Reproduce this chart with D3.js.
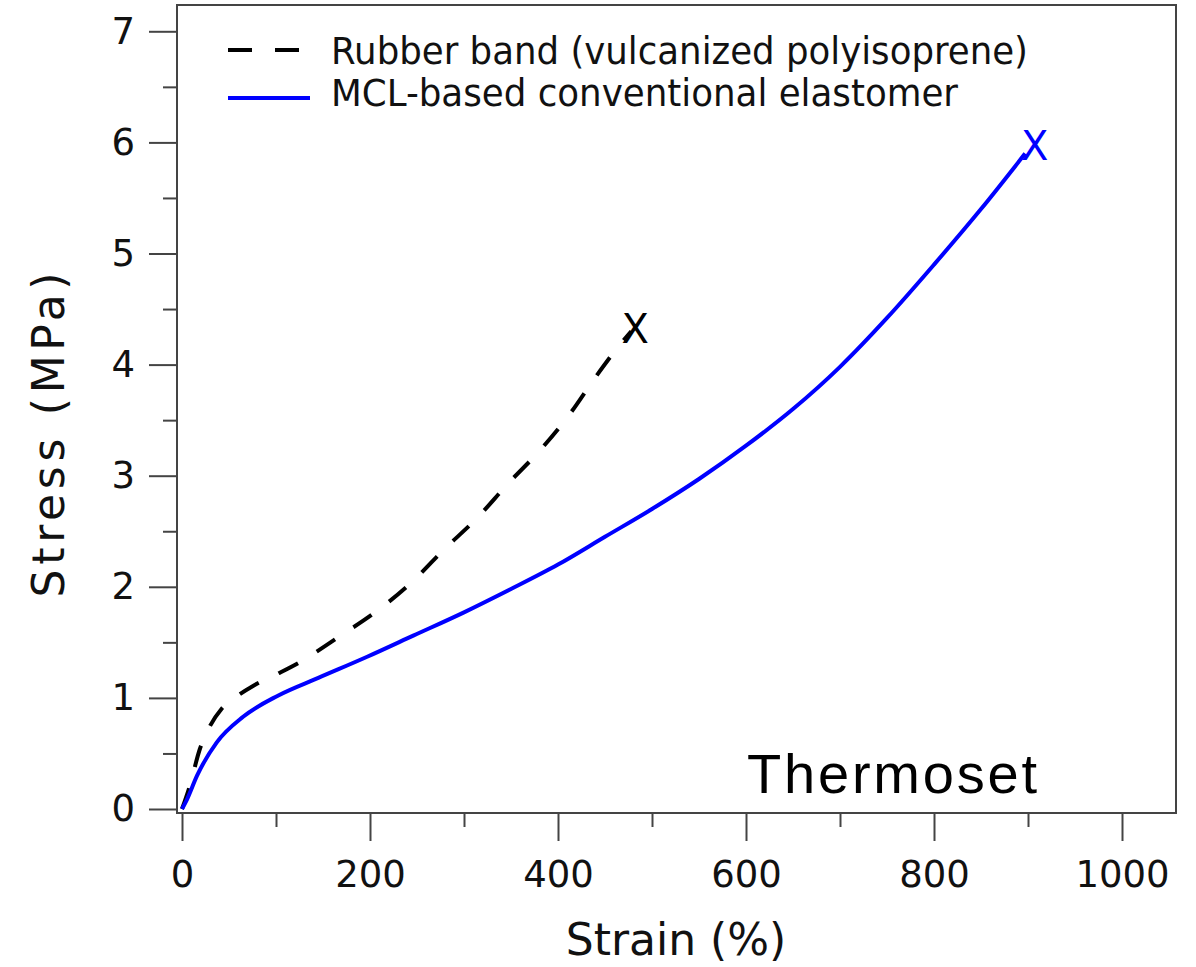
<!DOCTYPE html>
<html>
<head>
<meta charset="utf-8">
<script src="https://cdn.jsdelivr.net/npm/d3@7"></script>
<style>
    body { margin: 0; background: #fff; }
    svg { display: block; }
    .axis text { font-family: "DejaVu Sans", sans-serif; font-size: 37px; fill: #111; }
    .axis line { stroke: #444; stroke-width: 2; }
</style>
</head>
<body>
<div id="graph-placeholder"></div>
<script>
// strain (%) / stress (MPa)
var rubberStrain = [0, 8, 19, 30, 42, 56, 76, 100, 125, 165, 207, 243, 278, 314, 347, 381, 413, 441, 466, 478];
var rubberStress = [0, 0.2, 0.54, 0.75, 0.9, 1.0, 1.11, 1.21, 1.32, 1.54, 1.78, 2.03, 2.33, 2.62, 2.93, 3.23, 3.56, 3.9, 4.18, 4.3];

var mclStrain = [0, 5, 16, 37, 65, 102, 145, 197, 246, 300, 350, 400, 450, 500, 550, 600, 650, 700, 750, 800, 850, 897];
var mclStress = [0, 0.08, 0.3, 0.6, 0.83, 1.02, 1.18, 1.37, 1.56, 1.77, 1.98, 2.2, 2.45, 2.7, 2.97, 3.27, 3.6, 3.98, 4.42, 4.9, 5.4, 5.9];

// failure points marked with an X
var breakStrain = [482, 907];
var breakStress = [4.33, 5.98];

var seriesNames = ["Rubber band (vulcanized polyisoprene)", "MCL-based conventional elastomer"];
var xMajorTicks = [0, 200, 400, 600, 800, 1000],
    xMinorTicks = [100, 300, 500, 700, 900],
    yMajorTicks = [0, 1, 2, 3, 4, 5, 6, 7],
    yMinorTicks = [0.5, 1.5, 2.5, 3.5, 4.5, 5.5, 6.5];

var width = 1196,
    height = 967,
    frame = {left: 177, top: 5, right: 1176, bottom: 813};

var svg = d3.select("#graph-placeholder")
    .append("svg")
    .attr("width", width)
    .attr("height", height);

var xScale = d3.scaleLinear().domain([0, 1000]).range([182, 1122]);
var yScale = d3.scaleLinear().domain([0, 7]).range([809, 31.3]);

var toPoints = function (xs, ys) {
    return xs.map(function (x, i) { return [x, ys[i]]; });
};

var noDomain = function (g) { g.select(".domain").remove(); };

// bottom axis
svg.append("g")
    .attr("class", "axis")
    .attr("transform", "translate(0," + frame.bottom + ")")
    .call(d3.axisBottom(xScale).tickValues(xMajorTicks).tickSize(28).tickPadding(20).tickFormat(d3.format("d")))
    .call(noDomain);

svg.append("g")
    .attr("class", "axis")
    .attr("transform", "translate(0," + frame.bottom + ")")
    .call(d3.axisBottom(xScale).tickValues(xMinorTicks).tickSize(14).tickFormat(""))
    .call(noDomain);

// left axis
svg.append("g")
    .attr("class", "axis")
    .attr("transform", "translate(" + frame.left + ",0)")
    .call(d3.axisLeft(yScale).tickValues(yMajorTicks).tickSize(28).tickPadding(14).tickFormat(d3.format("d")))
    .call(noDomain);

svg.append("g")
    .attr("class", "axis")
    .attr("transform", "translate(" + frame.left + ",0)")
    .call(d3.axisLeft(yScale).tickValues(yMinorTicks).tickSize(14).tickFormat(""))
    .call(noDomain);

// plot frame
svg.append("rect")
    .attr("x", frame.left)
    .attr("y", frame.top)
    .attr("width", frame.right - frame.left)
    .attr("height", frame.bottom - frame.top)
    .style("fill", "none")
    .style("stroke", "#444")
    .style("stroke-width", 2);

var line = d3.line()
    .curve(d3.curveMonotoneX)
    .x(function (d) { return xScale(d[0]); })
    .y(function (d) { return yScale(d[1]); });

svg.append("path")
    .datum(toPoints(rubberStrain, rubberStress))
    .attr("d", line)
    .style("fill", "none")
    .style("stroke", "#000")
    .style("stroke-width", 4)
    .style("stroke-dasharray", "22,22");

svg.append("path")
    .datum(toPoints(mclStrain, mclStress))
    .attr("d", line)
    .style("fill", "none")
    .style("stroke", "#0000ff")
    .style("stroke-width", 4);

var breakColors = ["#000", "#0000ff"];
svg.selectAll(".break")
    .data(toPoints(breakStrain, breakStress))
    .enter()
    .append("text")
    .attr("class", "break")
    .attr("x", function (d) { return xScale(d[0]); })
    .attr("y", function (d) { return yScale(d[1]) + 15; })
    .attr("text-anchor", "middle")
    .style("font-family", "DejaVu Sans, sans-serif")
    .style("font-size", "40px")
    .style("fill", function (d, i) { return breakColors[i]; })
    .text("X");

// legend
var legend = svg.append("g").attr("class", "legend");
legend.append("line")
    .attr("x1", 228).attr("x2", 310)
    .attr("y1", 50).attr("y2", 50)
    .style("stroke", "#000")
    .style("stroke-width", 4)
    .style("stroke-dasharray", "24,23");
legend.append("line")
    .attr("x1", 228).attr("x2", 310)
    .attr("y1", 98).attr("y2", 98)
    .style("stroke", "#0000ff")
    .style("stroke-width", 4);

var legendWidths = [697, 627];
legend.selectAll("text")
    .data(seriesNames)
    .enter()
    .append("text")
    .attr("x", 331)
    .attr("y", function (d, i) { return 64 + i * 42; })
    .attr("textLength", function (d, i) { return legendWidths[i]; })
    .attr("lengthAdjust", "spacingAndGlyphs")
    .style("font-family", "DejaVu Sans, sans-serif")
    .style("font-size", "37px")
    .style("fill", "#111")
    .text(function (d) { return d; });

svg.append("text")
    .attr("x", 747)
    .attr("y", 793)
    .attr("textLength", 290)
    .attr("lengthAdjust", "spacing")
    .style("font-family", "Liberation Sans, Arial, sans-serif")
    .style("font-size", "56px")
    .style("fill", "#000")
    .text("Thermoset");

// axis titles
svg.append("text")
    .attr("x", 676)
    .attr("y", 955)
    .attr("text-anchor", "middle")
    .style("font-family", "DejaVu Sans, sans-serif")
    .style("font-size", "44px")
    .style("fill", "#111")
    .text("Strain (%)");

svg.append("text")
    .attr("transform", "translate(64,435) rotate(-90)")
    .attr("text-anchor", "middle")
    .attr("textLength", 325)
    .attr("lengthAdjust", "spacing")
    .style("font-family", "DejaVu Sans, sans-serif")
    .style("font-size", "44px")
    .style("fill", "#111")
    .text("Stress (MPa)");
</script>
</body>
</html>
